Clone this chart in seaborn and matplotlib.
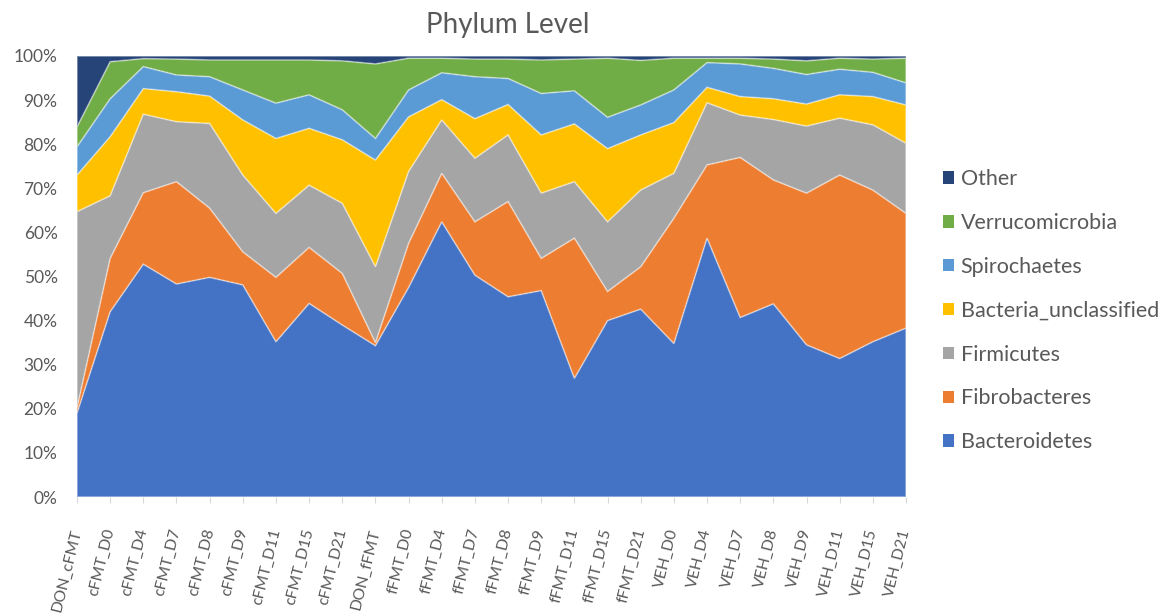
import numpy as np
import pandas as pd
import matplotlib
matplotlib.use("Agg")
import matplotlib.pyplot as plt
from matplotlib.patches import Patch
import seaborn as sns
import seaborn.objects as so

# Samples (x axis categories)
samples = [
    "DON_cFMT", "cFMT_D0", "cFMT_D4", "cFMT_D7", "cFMT_D8", "cFMT_D9",
    "cFMT_D11", "cFMT_D15", "cFMT_D21", "DON_fFMT", "fFMT_D0", "fFMT_D4",
    "fFMT_D7", "fFMT_D8", "fFMT_D9", "fFMT_D11", "fFMT_D15", "fFMT_D21",
    "VEH_D0", "VEH_D4", "VEH_D7", "VEH_D8", "VEH_D9", "VEH_D11",
    "VEH_D15", "VEH_D21",
]

# Relative abundance (%) per phylum, one value per sample
bacteroidetes = [19.0, 42.0, 52.8, 48.3, 49.8, 48.1, 35.2, 43.9, 39.0, 34.3, 47.5, 62.4, 50.3,
                 45.4, 46.8, 26.9, 40.0, 42.6, 34.8, 58.7, 40.7, 43.8, 34.5, 31.4, 35.2, 38.3]
fibrobacteres = [1.2, 12.1, 16.2, 23.2, 15.7, 7.5, 14.6, 12.7, 11.7, 0.7, 10.0, 11.0, 12.1,
                 21.6, 7.3, 31.8, 6.6, 9.6, 28.4, 16.6, 36.3, 28.1, 34.4, 41.6, 34.4, 26.0]
firmicutes = [44.5, 14.2, 17.8, 13.6, 19.2, 17.4, 14.5, 14.1, 15.9, 17.2, 16.3, 12.1, 14.4,
              15.1, 14.8, 12.8, 15.8, 17.4, 10.2, 14.1, 9.6, 13.7, 15.2, 12.9, 14.8, 15.9]
bacteria_unclassified = [8.3, 13.4, 5.8, 6.8, 6.2, 12.5, 17.0, 12.9, 14.4, 24.2, 12.4, 4.6, 9.0,
                         6.9, 13.2, 13.1, 16.6, 12.5, 11.5, 3.5, 4.2, 4.7, 5.0, 5.3, 6.4, 8.7]
spirochaetes = [6.4, 8.6, 5.0, 3.8, 4.4, 6.8, 8.0, 7.6, 6.8, 4.9, 6.1, 6.1, 9.5,
                5.9, 9.4, 7.5, 7.1, 6.8, 7.4, 5.6, 7.4, 6.9, 6.7, 5.8, 5.5, 5.0]
verrucomicrobia = [4.5, 8.4, 1.8, 3.6, 3.8, 6.8, 9.8, 7.9, 11.1, 16.9, 7.2, 3.3, 4.0,
                   4.4, 7.6, 7.2, 13.4, 10.1, 7.2, 1.0, 1.3, 2.1, 3.1, 2.5, 3.0, 5.6]
other = [16.1, 1.3, 0.6, 0.7, 0.9, 0.9, 0.9, 0.9, 1.1, 1.8, 0.5, 0.5, 0.7,
         0.7, 0.9, 0.7, 0.5, 1.0, 0.5, 0.5, 0.5, 0.7, 1.1, 0.5, 0.7, 0.5]

phyla = ["Bacteroidetes", "Fibrobacteres", "Firmicutes", "Bacteria_unclassified",
         "Spirochaetes", "Verrucomicrobia", "Other"]
series = [bacteroidetes, fibrobacteres, firmicutes, bacteria_unclassified,
          spirochaetes, verrucomicrobia, other]
colors = ["#4472C4", "#ED7D31", "#A5A5A5", "#FFC000", "#5B9BD5", "#70AD47", "#264478"]

yticks = list(range(0, 101, 10))
ytick_labels = [f"{t}%" for t in yticks]

# Long-form table, each sample normalised to 100 %
values = np.array(series, dtype=float)
totals = values.sum(axis=0)
rows = []
for name, vals in zip(phyla, values):
    for i, v in enumerate(vals):
        rows.append({"idx": i, "sample": samples[i], "phylum": name,
                     "share": v / totals[i] * 100.0})
df = pd.DataFrame(rows)

sns.set_theme(style="white")
plt.rcParams["font.family"] = ["Lato", "DejaVu Sans"]

W, H = 1172, 613
fig = plt.figure(figsize=(W / 100, H / 100), dpi=100)
left, right, top, bottom = 77, 906, 56, 497
ax = fig.add_axes([left / W, 1 - bottom / H, (right - left) / W, (bottom - top) / H])

(
    so.Plot(df, x="idx", y="share", color="phylum")
    .add(so.Area(alpha=1, edgecolor="white", edgewidth=0.6, edgealpha=0.45), so.Stack())
    .scale(color=so.Nominal(dict(zip(phyla, colors)), order=phyla))
    .theme({**sns.axes_style("white"), "font.family": ["Lato", "DejaVu Sans"]})
    .on(ax)
    .plot()
)

# Replace the automatic legend with a reversed, square-marker one
fig.legends.clear()

text_color = "#595959"
ax.set_facecolor("white")
ax.grid(False)
ax.set_xlim(0, len(samples) - 1)
ax.set_ylim(0, 100)
ax.set_xlabel("")
ax.set_ylabel("")
for sp in ax.spines.values():
    sp.set_visible(False)

ax.set_yticks(yticks)
ax.set_yticklabels(ytick_labels, fontsize=12.5, color=text_color)
ax.tick_params(axis="y", length=0, pad=14)

ax.set_xticks(range(len(samples)))
ax.set_xticklabels(samples, rotation=76, ha="right", va="center",
                   rotation_mode="anchor", fontsize=11.3, color=text_color)
ax.tick_params(axis="x", bottom=True, length=4, width=0.8, color="#d9d9d9", pad=19)

fig.text(508 / W, 1 - 25 / H, "Phylum Level", ha="center", va="center",
         fontsize=20, color=text_color)

handles = [Patch(facecolor=c, edgecolor="none") for c in colors][::-1]
fig.legend(handles, phyla[::-1], loc="upper left",
           bbox_to_anchor=(943 / W, 1 - 169 / H), frameon=False,
           fontsize=15.5, labelcolor=text_color, borderpad=0, borderaxespad=0,
           handlelength=0.52, handleheight=0.52, handletextpad=0.3,
           labelspacing=1.11)

fig.savefig("out.png", dpi=100)
